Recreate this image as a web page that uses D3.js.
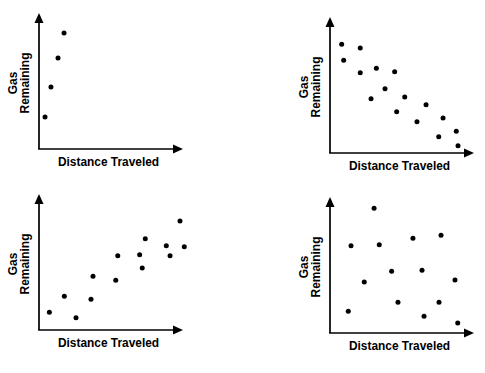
<!DOCTYPE html>
<html>
<head>
<meta charset="utf-8">
<script src="https://cdn.jsdelivr.net/npm/d3@7"></script>
<style>
  html, body { margin: 0; padding: 0; background: #fff; }
  svg { display: block; }
</style>
</head>
<body>
<script>
// ---- Data (axis units 0..100, origin to arrow tip) ----
const xLabel = "Distance Traveled";
const yLabelLines = ["Gas", "Remaining"];

// Panel A (top-left): steep rising
const distanceA = [4.2, 8.3, 13.2, 17.4];
const gasA      = [23.5, 45.6, 66.9, 85.3];

// Panel B (top-right): negative trend
const distanceB = [8.1, 9.5, 21.0, 21.0, 32.2, 44.9, 38.2, 28.5, 51.9, 46.3, 66.7, 60.4, 78.5, 75.5, 87.7, 88.9];
const gasB      = [79.9, 68.2, 77.2, 59.0, 62.3, 59.8, 47.3, 39.9, 41.2, 30.4, 35.5, 23.0, 25.7, 12.0, 16.0, 5.4];

// Panel C (bottom-left): positive trend
const distanceC = [7.2, 17.6, 25.7, 36.1, 37.5, 53.3, 54.7, 69.9, 71.7, 73.8, 88.4, 91.0, 97.9, 100.9];
const gasC      = [13.0, 24.8, 9.0, 22.6, 39.5, 36.5, 54.6, 55.4, 45.6, 67.1, 62.0, 54.6, 80.1, 61.3];

// Panel D (bottom-right): no correlation
const distanceD = [30.6, 14.6, 34.2, 57.6, 77.1, 42.8, 63.9, 23.8, 86.8, 47.2, 75.7, 12.7, 65.3, 88.7];
const gasD      = [91.7, 64.2, 64.9, 69.6, 71.8, 45.4, 46.1, 37.5, 39.0, 22.6, 22.6, 16.0, 12.3, 7.4];

// ---- Layout ----
const W = 485, H = 373;
const panels = [
  { xs: distanceA, ys: gasA, ox: 39,  oy: 149 },
  { xs: distanceB, ys: gasB, ox: 330, oy: 153 },
  { xs: distanceC, ys: gasC, ox: 39,  oy: 330 },
  { xs: distanceD, ys: gasD, ox: 330, oy: 333 }
];
const axisW = 144, axisH = 136;
const font = "'Liberation Sans', Arial, Helvetica, sans-serif";

const svg = d3.select("body").append("svg")
  .attr("width", W).attr("height", H)
  .attr("viewBox", `0 0 ${W} ${H}`);
svg.append("rect").attr("width", W).attr("height", H).attr("fill", "#fff");

panels.forEach(p => {
  const x = d3.scaleLinear().domain([0, 100]).range([p.ox, p.ox + axisW]);
  const y = d3.scaleLinear().domain([0, 100]).range([p.oy, p.oy - axisH]);
  const g = svg.append("g");

  const ah = 10, aw = 4.5; // arrowhead length / half-width

  // y axis line
  g.append("line")
    .attr("x1", x(0)).attr("y1", y(0))
    .attr("x2", x(0)).attr("y2", y(100) + ah - 1)
    .attr("stroke", "#000").attr("stroke-width", 1.7);
  // x axis line
  g.append("line")
    .attr("x1", x(0) - 0.85).attr("y1", y(0))
    .attr("x2", x(100) - ah + 1).attr("y2", y(0))
    .attr("stroke", "#000").attr("stroke-width", 1.7);

  // arrowheads
  g.append("path")
    .attr("d", `M${x(0)},${y(100)} L${x(0) - aw},${y(100) + ah} L${x(0) + aw},${y(100) + ah} Z`)
    .attr("fill", "#000");
  g.append("path")
    .attr("d", `M${x(100)},${y(0)} L${x(100) - ah},${y(0) - aw} L${x(100) - ah},${y(0) + aw} Z`)
    .attr("fill", "#000");

  // points
  g.selectAll("circle")
    .data(p.xs.map((d, i) => [d, p.ys[i]]))
    .join("circle")
    .attr("cx", d => x(d[0]))
    .attr("cy", d => y(d[1]))
    .attr("r", 2.5)
    .attr("fill", "#000");

  // x label
  g.append("text")
    .attr("x", x(0) + 69.5)
    .attr("y", y(0) + 16.5)
    .attr("text-anchor", "middle")
    .attr("font-family", font)
    .attr("font-weight", "bold")
    .attr("font-size", 11.9)
    .attr("fill", "#000")
    .text(xLabel);

  // y label (rotated, two lines)
  const cy = y(50) + 2;
  yLabelLines.forEach((t, i) => {
    const bx = x(0) - 22.5 + i * 12;
    g.append("text")
      .attr("transform", `translate(${bx},${cy}) rotate(-90)`)
      .attr("text-anchor", "middle")
      .attr("font-family", font)
      .attr("font-weight", "bold")
      .attr("font-size", 11.9)
      .attr("fill", "#000")
      .text(t);
  });
});
</script>
</body>
</html>
